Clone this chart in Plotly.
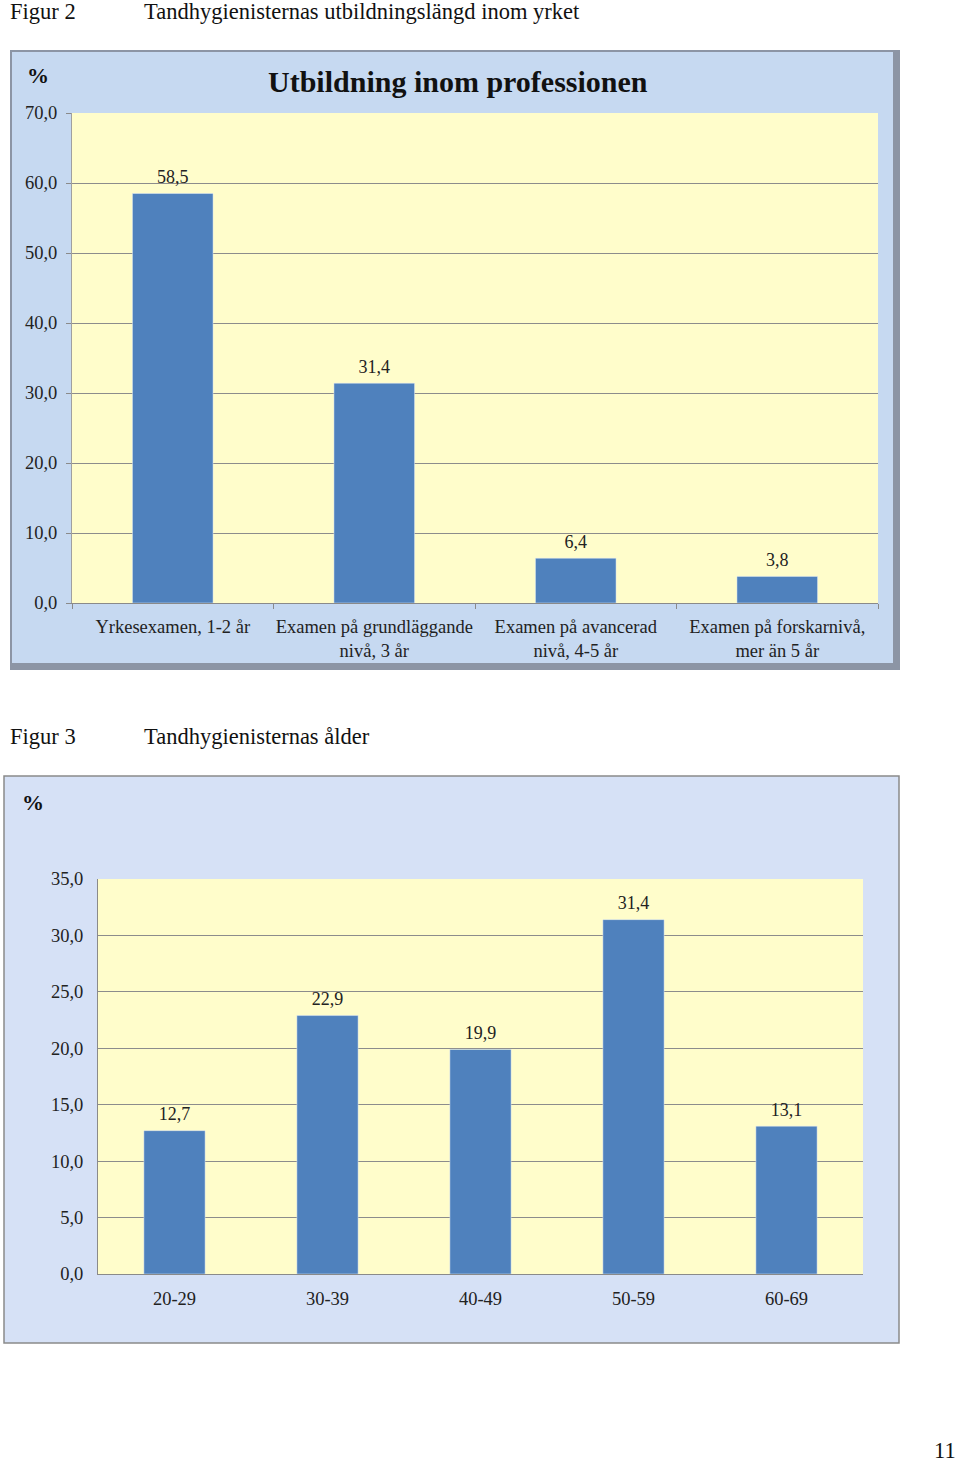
import plotly.graph_objects as go

W, H = 960, 1466

# Data
cat1 = ["Yrkesexamen, 1-2 år", "Examen på grundläggande<br>nivå, 3 år",
        "Examen på avancerad<br>nivå, 4-5 år", "Examen på forskarnivå,<br>mer än 5 år"]
val1 = [58.5, 31.4, 6.4, 3.8]
cat2 = ["20-29", "30-39", "40-49", "50-59", "60-69"]
val2 = [12.7, 22.9, 19.9, 31.4, 13.1]

BAR = "#4F81BD"
PLOTBG = "#FFFDCB"
SERIF = "Liberation Serif, Times New Roman, serif"

def px(x):
    return x / W

def py(y):
    return 1 - y / H

labelfont = dict(family=SERIF, size=18, color="#222")

fig = go.Figure()
fig.add_trace(go.Bar(x=cat1, y=val1, marker_color=BAR, xaxis="x", yaxis="y", hoverinfo="skip"))
fig.add_trace(go.Scatter(x=cat1, y=val1, mode="markers+text", xaxis="x", yaxis="y",
                         marker=dict(size=8, color="rgba(0,0,0,0)"),
                         text=val1, texttemplate="%{y:.1f}", textposition="top center",
                         textfont=labelfont, cliponaxis=False, hoverinfo="skip"))
fig.add_trace(go.Bar(x=cat2, y=val2, marker_color=BAR, xaxis="x2", yaxis="y2", hoverinfo="skip"))
fig.add_trace(go.Scatter(x=cat2, y=val2, mode="markers+text", xaxis="x2", yaxis="y2",
                         marker=dict(size=8, color="rgba(0,0,0,0)"),
                         text=val2, texttemplate="%{y:.1f}", textposition="top center",
                         textfont=labelfont, cliponaxis=False, hoverinfo="skip"))

def rect(x0, y0, x1, y1, fill, line=None):
    return dict(type="rect", xref="paper", yref="paper", x0=px(x0), x1=px(x1),
                y0=py(y1), y1=py(y0), fillcolor=fill,
                line=line or dict(width=0), layer="below")

shapes = [
    rect(10, 50, 900, 670, "#8C95A5"),
    rect(12, 52, 893, 663, "#C6D9F1"),
    rect(72, 113, 878, 603, PLOTBG),
    rect(4, 776, 899, 1343, "#D6E1F6", dict(color="#8A8A8A", width=1.5)),
    rect(98, 879, 863, 1274, PLOTBG),
]

annotations = [
    dict(text="Figur 2", x=px(8), y=py(12), xanchor="left", yanchor="middle"),
    dict(text="Tandhygienisternas utbildningslängd inom yrket", x=px(142), y=py(12), xanchor="left", yanchor="middle"),
    dict(text="Figur 3", x=px(8), y=py(736), xanchor="left", yanchor="middle"),
    dict(text="Tandhygienisternas ålder", x=px(142), y=py(736), xanchor="left", yanchor="middle"),
    dict(text="11", x=px(958), y=py(1465), xanchor="right", yanchor="bottom"),
]
for a in annotations:
    a.update(xref="paper", yref="paper", showarrow=False,
             font=dict(family=SERIF, size=22.5, color="#111"))
annotations += [
    dict(text="<b>Utbildning inom professionen</b>", x=px(458), y=py(82), xref="paper", yref="paper",
         showarrow=False, xanchor="center", yanchor="middle",
         font=dict(family=SERIF, size=30, color="#111")),
    dict(text="<b>%</b>", x=px(38), y=py(76), xref="paper", yref="paper",
         showarrow=False, xanchor="center", yanchor="middle",
         font=dict(family=SERIF, size=22, color="#111")),
    dict(text="<b>%</b>", x=px(33), y=py(803), xref="paper", yref="paper",
         showarrow=False, xanchor="center", yanchor="middle",
         font=dict(family=SERIF, size=22, color="#111")),
]

tickfont = dict(family=SERIF, size=18.5, color="#222")

fig.update_layout(
    width=W, height=H, margin=dict(l=0, r=0, t=0, b=0, pad=0, autoexpand=False),
    paper_bgcolor="white", plot_bgcolor="rgba(0,0,0,0)",
    showlegend=False, bargap=0.6, separators=", ",
    shapes=shapes, annotations=annotations,
    xaxis=dict(domain=[px(72), px(878)], anchor="y", tickfont=tickfont, automargin=False,
               tickangle=0, showline=True, linecolor="#8A8A8A", linewidth=1,
               ticks="outside", tickson="boundaries", ticklen=5, tickcolor="#8A8A8A",
               ticklabelstandoff=7, showgrid=False, fixedrange=True),
    yaxis=dict(domain=[py(603), py(113)], anchor="x", range=[0, 70], dtick=10, automargin=False,
               tickformat=".1f", tickfont=tickfont, showline=True, linecolor="#A0A0A0",
               ticks="outside", ticklen=5, tickcolor="#8A8A8A", ticklabelstandoff=5,
               gridcolor="#8C8C8C", gridwidth=1, zeroline=False, fixedrange=True),
    xaxis2=dict(domain=[px(98), px(863)], anchor="y2", tickfont=tickfont, automargin=False,
                tickangle=0, showline=True, linecolor="#8A8A8A", linewidth=1, ticks="",
                ticklabelstandoff=8, showgrid=False, fixedrange=True),
    yaxis2=dict(domain=[py(1274), py(879)], anchor="x2", range=[0, 35], dtick=5, automargin=False,
                tickformat=".1f", tickfont=tickfont, showline=True, linecolor="#8A8A8A",
                ticks="", ticklabelstandoff=10,
                gridcolor="#8C8C8C", gridwidth=1, zeroline=False, fixedrange=True),
)

fig.write_html("out.html", config={"displayModeBar": False},
               post_script="document.body.style.margin='0px';")
